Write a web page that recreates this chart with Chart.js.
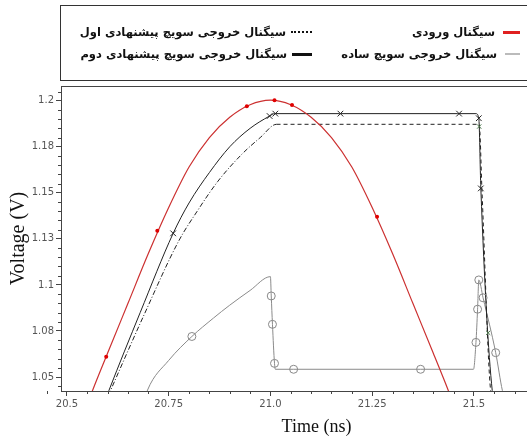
<!DOCTYPE html>
<html>
<head>
<meta charset="utf-8">
<script src="https://cdn.jsdelivr.net/npm/chart.js@4.4.0/dist/chart.umd.min.js"></script>
<style>
html, body { margin: 0; padding: 0; background: #fff; overflow: hidden; width: 527px; height: 436px; }
#wrap { position: relative; width: 577px; height: 436px; }
#legend { position: absolute; left: 60px; top: 5px; width: 540px; height: 76px; border: 1px solid #333; box-sizing: border-box;
  font-family: "DejaVu Sans", sans-serif; font-weight: bold; font-size: 11.5px; color: #111; }
.item { position: absolute; direction: rtl; white-space: nowrap; display: flex; align-items: center; height: 20px; }
.sym { display: inline-block; margin-left: 8px; }
canvas { position: absolute; left: 0; top: 0; }
</style>
</head>
<body>
<div id="wrap">
  <canvas id="chart" width="577" height="436"></canvas>
  <div id="legend"></div>
</div>
<script>
// подписи осей
const xTickValues = [20.5, 20.75, 21.0, 21.25, 21.5];
const xTickLabels = ['20.5', '20.75', '21.0', '21.25', '21.5'];
const yTickValues = [1.05, 1.075, 1.1, 1.125, 1.15, 1.175, 1.2];
const yTickLabels = ['1.05', '1.08', '1.1', '1.13', '1.15', '1.18', '1.2'];

const seriesNames = [
    'سیگنال ورودی',
    'سیگنال خروجی سویچ پیشنهادی اول',
    'سیگنال خروجی سویچ ساده',
    'سیگنال خروجی سویچ پیشنهادی دوم'
];

// входной сигнал (красный)
const inputTime = [20.54, 20.56, 20.60, 20.65, 20.70, 20.75, 20.80, 20.85, 20.90, 20.95, 21.00,
                   21.05, 21.10, 21.15, 21.20, 21.25, 21.30, 21.35, 21.40, 21.44, 21.46];
const inputVolt = [1.029, 1.041, 1.063, 1.090, 1.117, 1.142, 1.164, 1.180, 1.191, 1.1978, 1.2003,
                   1.1978, 1.191, 1.180, 1.164, 1.142, 1.117, 1.090, 1.063, 1.041, 1.029];
const inputDotTime = [20.5965, 20.722, 20.942, 21.01, 21.053, 21.262];
const inputDotVolt = [1.061, 1.1294, 1.197, 1.2003, 1.1977, 1.137];

// первый предложенный ключ (пунктир)
const firstTime = [20.592, 20.607, 20.69, 20.775, 20.82, 20.87, 20.93, 20.975, 21.015, 21.30, 21.513, 21.52, 21.541, 21.546];
const firstVolt = [1.035, 1.0426, 1.084, 1.124, 1.140, 1.156, 1.171, 1.180, 1.1872, 1.1872, 1.1872, 1.15, 1.0427, 1.039];
const firstMarkTime = [21.513, 21.535];
const firstMarkVolt = [1.186, 1.074];

// простой ключ (серый)
const simpleTime = [20.69, 20.698, 20.75, 20.807, 20.86, 20.90, 20.95, 21.0, 21.002, 21.005, 21.01, 21.012,
                    21.057, 21.369, 21.499, 21.505, 21.509, 21.512, 21.5225, 21.5535, 21.57, 21.575];
const simpleVolt = [1.037, 1.0429, 1.059, 1.072, 1.082, 1.089, 1.097, 1.1045, 1.094, 1.0786, 1.0574, 1.0542,
                    1.0542, 1.0542, 1.0542, 1.0688, 1.0868, 1.1027, 1.093, 1.0632, 1.0426, 1.039];
const simpleRingTime = [20.807, 21.002, 21.005, 21.01, 21.057, 21.369, 21.505, 21.509, 21.512, 21.5225, 21.5535];
const simpleRingVolt = [1.072, 1.094, 1.0786, 1.0574, 1.0542, 1.0542, 1.0688, 1.0868, 1.1027, 1.093, 1.0632];

// второй предложенный ключ (сплошной чёрный)
const secondTime = [20.59, 20.603, 20.68, 20.761, 20.80, 20.85, 20.90, 20.95, 20.998, 21.01, 21.17, 21.46, 21.505, 21.512, 21.517, 21.545, 21.55];
const secondVolt = [1.035, 1.0426, 1.085, 1.128, 1.1445, 1.161, 1.175, 1.185, 1.1917, 1.193, 1.193, 1.193, 1.193, 1.1905, 1.1524, 1.0427, 1.039];
const secondMarkTime = [20.761, 20.998, 21.012, 21.172, 21.4635, 21.512, 21.517];
const secondMarkVolt = [1.128, 1.1917, 1.193, 1.193, 1.193, 1.1905, 1.1524];

const toPoints = (ts, vs) => ts.map((t, i) => ({x: t, y: vs[i]}));

const legendItems = [
    {name: seriesNames[0], col: 0, row: 0, sym: 'width:17px;height:3px;background:#e02020;'},
    {name: seriesNames[1], col: 1, row: 0, sym: 'width:21px;height:0;border-top:2px dotted #111;margin-left:5px;'},
    {name: seriesNames[2], col: 0, row: 1, sym: 'width:15px;height:2px;background:#bbb;'},
    {name: seriesNames[3], col: 1, row: 1, sym: 'width:20px;height:3px;background:#111;margin-left:5px;'}
];

const legend = document.getElementById('legend');
legendItems.forEach(it => {
    const div = document.createElement('div');
    div.className = 'item';
    div.style.right = (it.col === 0 ? 79 : 287) + 'px';
    div.style.top = (it.row === 0 ? 16 : 38) + 'px';
    div.innerHTML = `<span class="sym" style="${it.sym}"></span><span>${it.name}</span>`;
    legend.appendChild(div);
});

const frameAndMinorTicks = {
    id: 'frameAndMinorTicks',
    afterDraw(chart) {
        const {ctx, chartArea: a, scales: {x, y}} = chart;
        ctx.save();
        ctx.strokeStyle = '#444';
        ctx.lineWidth = 1;
        ctx.strokeRect(Math.round(a.left) + 0.5, Math.round(a.top) + 0.5, a.right - a.left, Math.round(a.bottom - a.top));
        ctx.beginPath();
        for (let m = 2045; m <= 2180; m += 5) {
            if (m % 25 === 0) continue;
            const px = Math.round(x.getPixelForValue(m / 100)) + 0.5;
            ctx.moveTo(px, a.bottom);
            ctx.lineTo(px, a.bottom + 3);
        }
        for (let m = 1045; m <= 1210; m += 5) {
            if (m % 25 === 0) continue;
            const py = Math.round(y.getPixelForValue(m / 1000)) + 0.5;
            if (py < a.top || py > a.bottom) continue;
            ctx.moveTo(a.left, py);
            ctx.lineTo(a.left - 3, py);
        }
        ctx.stroke();
        ctx.restore();
    }
};

const ctx = document.getElementById('chart').getContext('2d');
new Chart(ctx, {
    type: 'line',
    data: {
        datasets: [
            {data: toPoints(inputDotTime, inputDotVolt), showLine: false, pointRadius: 2, pointBackgroundColor: '#e00000', pointBorderWidth: 0},
            {data: toPoints(secondMarkTime, secondMarkVolt), showLine: false, pointStyle: 'crossRot', pointRadius: 4, pointBorderColor: '#222', pointBorderWidth: 1},
            {data: toPoints(firstMarkTime, firstMarkVolt), showLine: false, pointStyle: 'crossRot', pointRadius: 3, pointBorderColor: '#4d7a4d', pointBorderWidth: 1},
            {data: toPoints(simpleRingTime, simpleRingVolt), showLine: false, pointStyle: 'circle', pointRadius: 4, pointBorderColor: '#888', pointBackgroundColor: 'rgba(0,0,0,0)', pointBorderWidth: 1},
            {label: seriesNames[0], data: toPoints(inputTime, inputVolt), borderColor: '#cc3030', borderWidth: 1.2, pointRadius: 0, cubicInterpolationMode: 'monotone'},
            {label: seriesNames[3], data: toPoints(secondTime, secondVolt), borderColor: '#222', borderWidth: 1, pointRadius: 0, cubicInterpolationMode: 'monotone'},
            {label: seriesNames[1], data: toPoints(firstTime, firstVolt), borderColor: '#222', borderWidth: 1, pointRadius: 0, cubicInterpolationMode: 'monotone',
             segment: {borderDash: c => c.p0.parsed.x < 21.0 ? [5, 2, 1, 2] : [4, 3]}},
            {label: seriesNames[2], data: toPoints(simpleTime, simpleVolt), borderColor: '#8a8a8a', borderWidth: 1, pointRadius: 0, cubicInterpolationMode: 'monotone'}
        ]
    },
    options: {
        responsive: false,
        animation: false,
        layout: {padding: {top: 86, left: 0, right: 0, bottom: 0}},
        plugins: {legend: {display: false}, tooltip: {enabled: false}},
        scales: {
            x: {
                type: 'linear',
                min: 20.4854,
                max: 21.741,
                afterFit: s => { s.height = 45; },
                afterBuildTicks: s => { s.ticks = xTickValues.map(v => ({value: v})); },
                ticks: {callback: (v, i) => xTickLabels[i], color: '#555', padding: 2, maxRotation: 0,
                        font: {family: 'DejaVu Sans', size: 10}},
                grid: {drawOnChartArea: false, drawTicks: true, tickLength: 5, color: '#444'},
                border: {display: false},
                title: {display: true, text: 'Time (ns)', color: '#111', padding: {top: 0, bottom: 0},
                        font: {family: 'Liberation Serif', size: 18, lineHeight: 1}}
            },
            y: {
                type: 'linear',
                min: 1.0424,
                max: 1.208,
                afterFit: s => { s.width = 61; },
                afterBuildTicks: s => { s.ticks = yTickValues.map(v => ({value: v})); },
                ticks: {callback: (v, i) => yTickLabels[i], color: '#555', padding: 2,
                        font: {family: 'DejaVu Sans', size: 10}},
                grid: {drawOnChartArea: false, drawTicks: true, tickLength: 5, color: '#444'},
                border: {display: false},
                title: {display: true, text: 'Voltage (V)', color: '#111', padding: {top: 9, bottom: 0},
                        font: {family: 'Liberation Serif', size: 20, lineHeight: 1}}
            }
        }
    },
    plugins: [frameAndMinorTicks]
});
</script>
</body>
</html>
